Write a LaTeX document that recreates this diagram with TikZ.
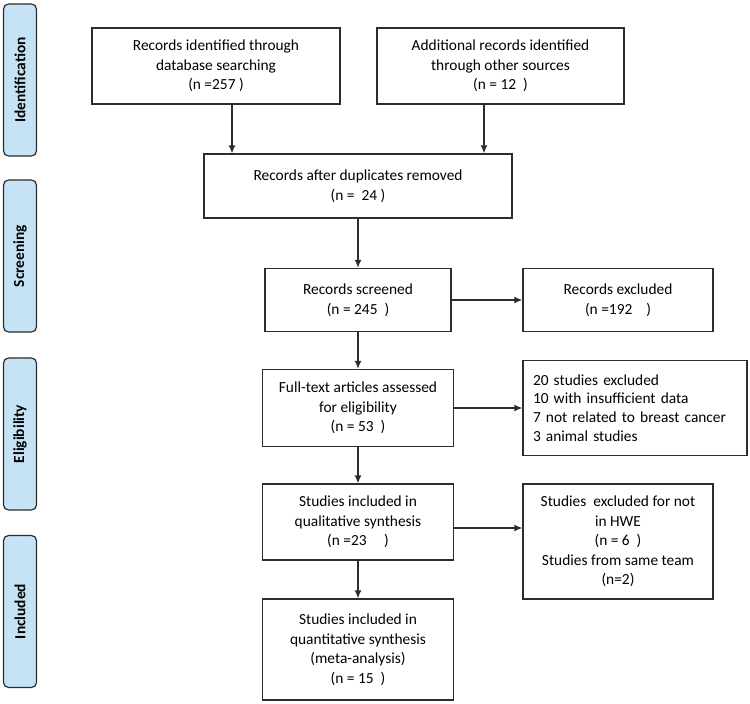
\documentclass[tikz,border=0pt]{standalone}
\usepackage{fontspec}
\setmainfont{Carlito}
\usetikzlibrary{arrows.meta}
\definecolor{sideblue}{RGB}{197,227,245}
\definecolor{linegray}{RGB}{45,45,45}
\begin{document}
\begin{tikzpicture}[x=1pt,y=1pt,
		box/.style={draw=linegray,line width=1.2pt,align=center,inner sep=2pt,
			font=\fontsize{15.4}{19.5}\selectfont},
		side/.style={draw=linegray,line width=1.2pt,fill=sideblue,rounded corners=5pt,
			rotate=90,minimum width=152pt,minimum height=33pt,inner sep=0pt,
			font=\fontsize{15.4}{18}\selectfont\bfseries},
		arr/.style={draw=linegray,line width=1.5pt,-{Latex[length=8pt,width=7pt]}}]
						\useasboundingbox (0,0) rectangle (750,-704);
						\node[side] (Id) at (20,-80) {Identification};
						\node[side] (Sc) at (20,-256) {Screening};
						\node[side] (El) at (20,-434) {Eligibility};
						\node[side] (In) at (20,-611.5) {Included};

						\node[box,minimum width=248pt,minimum height=76pt] (A) at (216,-66) {Records identified through\\database searching\\(n =257 )};
						\node[box,minimum width=247pt,minimum height=76pt] (B) at (500.5,-66) {Additional records identified\\through other sources\\(n = 12\ \ )};
						\node[box,minimum width=308pt,minimum height=64pt] (C) at (358,-186) {Records after duplicates removed\\(n =\ \ 24 )};
						\node[box,minimum width=186pt,minimum height=63pt] (D) at (358,-300) {Records screened\\(n = 245\ \ )};
						\node[box,minimum width=190pt,minimum height=63pt] (E) at (618,-300) {Records excluded\\(n =192\ \ \ \ )};
						\node[box,minimum width=191pt,minimum height=77pt] (F) at (358,-408) {Full-text articles assessed\\for eligibility\\(n = 53\ \ )};
						\node[box,minimum width=224pt,minimum height=95pt,text width=204pt,align=left,
							font=\fontsize{15.4}{18.8}\selectfont] (G) at (635,-408) {20 studies excluded\\10 with insufficient data\\7 not related to breast cancer\\3 animal studies};
						\node[box,minimum width=191pt,minimum height=76pt] (H) at (358,-522) {Studies included in\\qualitative synthesis\\(n =23\ \ \ \ \ )};
						\node[box,minimum width=190pt,minimum height=115pt] (I) at (618,-541.5) {Studies\ \ excluded for not\\in HWE\\(n = 6\ \ )\\Studies from same team\hspace{18pt}\\(n=2)};
						\node[box,minimum width=191pt,minimum height=101pt] (J) at (358,-649.5) {Studies included in\\quantitative synthesis\\(meta-analysis)\\(n = 15\ \ )};

						\draw [arr] ([xshift=16pt]A.south) -- ([xshift=16pt]A.south |- C.north);
						\draw [arr] ([xshift=-16.5pt]B.south) -- ([xshift=-16.5pt]B.south |- C.north);
						\draw [arr] (C) -- (D);
						\draw [arr] (D) -- (E);
						\draw [arr] (D) -- (F);
						\draw [arr] (F) -- (G);
						\draw [arr] (F) -- (H);
						\draw [arr] ([yshift=-6pt]H.east) -- ([yshift=-6pt]H.east -| I.west);
						\draw [arr] (H) -- (J);
					\end{tikzpicture}
\end{document}
